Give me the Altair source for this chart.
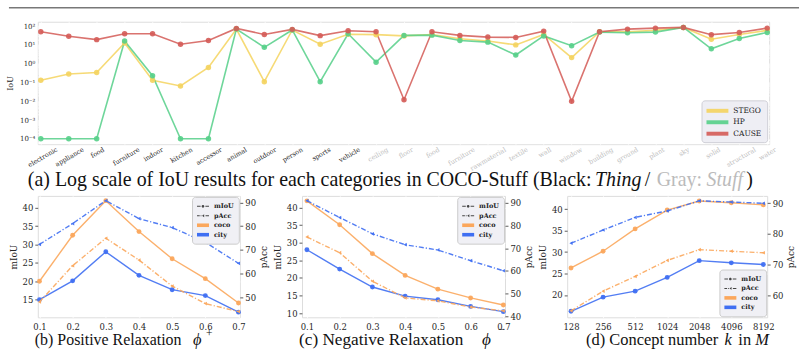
import altair as alt
import pandas as pd

# ---------------- (a) per-category IoU on COCO-Stuff (log scale) ----------------
thing_cats = ["electronic", "appliance", "food", "furniture", "indoor", "kitchen",
              "accessor", "animal", "outdoor", "person", "sports", "vehicle"]
stuff_cats = ["ceiling", "floor", "food", "furniture", "rawmaterial", "textile", "wall",
              "window", "building", "ground", "plant", "sky", "solid", "structural", "water"]
categories = thing_cats + stuff_cats
methods = ["STEGO", "HP", "CAUSE"]
method_colors = ["#f4d35e", "#55cf88", "#d45b56"]

iou_stego = [0.13, 0.28, 0.34, 12.6, 0.13, 0.065, 0.63, 70, 0.11, 62, 10.8, 37,
             35, 30, 36, 21, 16, 10, 36, 2.1, 50, 50, 59, 85, 20, 36, 59]
iou_hp = [1e-4, 1e-4, 1e-4, 16, 0.23, 1e-4, 1e-4, 70, 7.4, 62, 0.11, 39,
          1.2, 32, 33, 17, 14, 2.9, 30, 9, 48, 44, 48, 85, 6.2, 22, 46]
iou_cause = [50, 29, 19, 39, 39, 10.8, 17, 75, 36, 67, 31, 57,
             50, 0.012, 50, 32, 26, 25, 54, 0.01, 50, 69, 78, 85, 35, 46, 78]

# ---------------- (b)-(d) ablations: mIoU (left axis) / pAcc (right axis) ----------------
relax_levels = [0.1, 0.2, 0.3, 0.4, 0.5, 0.6, 0.7]
pos_coco_miou = [20.0, 32.5, 41.9, 33.5, 26.1, 20.7, 14.1]
pos_city_miou = [15.0, 20.1, 28.0, 21.6, 17.7, 16.1, 11.6]
pos_coco_pacc = [48.0, 63.3, 74.9, 65.7, 54.7, 47.3, 43.9]
pos_city_pacc = [72.3, 81.1, 90.8, 83.2, 79.4, 73.2, 64.3]

neg_coco_miou = [41.9, 35.1, 26.9, 20.7, 16.8, 14.3, 12.3]
neg_city_miou = [28.0, 22.5, 17.4, 14.8, 13.8, 11.9, 10.4]
neg_coco_pacc = [74.9, 68.0, 55.5, 48.2, 46.9, 44.2, 42.5]
neg_city_pacc = [90.8, 83.4, 76.3, 71.5, 69.2, 64.5, 60.1]

concept_sizes = [128, 256, 512, 1024, 2048, 4096, 8192]
k_coco_miou = [26.3, 30.2, 35.4, 39.8, 41.9, 41.5, 41.0]
k_city_miou = [16.2, 19.5, 20.9, 24.1, 28.0, 27.5, 27.1]
k_coco_pacc = [55.0, 61.4, 66.2, 71.4, 74.9, 74.4, 73.9]
k_city_pacc = [77.0, 81.3, 85.4, 87.5, 90.8, 90.4, 90.0]

ORANGE = "#fba75c"
BLUE = "#3f6ff2"
legend_keys = ["mIoU", "pAcc", "coco", "city"]
# legend glyphs as unit paths (stretched to the right): dashed line with dot,
# dash-dot with left triangle, and two thick colour bars
legend_glyphs = [
    "M-1,-0.11H-0.2V0.11H-1Z M0.87,-0.11H1.67V0.11H0.87Z "
    "M0.03,0A0.3,0.3 0 1,0 0.63,0A0.3,0.3 0 1,0 0.03,0Z",
    "M-1,-0.11H-0.4V0.11H-1Z M-0.2,-0.11H-0.02V0.11H-0.2Z "
    "M0.6,-0.32L0.12,0L0.6,0.32Z M0.9,-0.11H1.67V0.11H0.9Z",
    "M-1,-0.4H1.67V0.4H-1Z",
    "M-1,-0.4H1.67V0.4H-1Z",
]
method_bar = "M-1,-0.36H3V0.36H-1Z"

SERIF = "DejaVu Serif"
CAPTION_FONT = "Liberation Serif"
BG = "#eaeaf2"
NBSP_PAD = "\u00a0\u00a0\u00a0"


def caption(text, x, y, size, italic=False, color="#111111"):
    return alt.Chart(pd.DataFrame({"t": [text]})).mark_text(
        align="left", baseline="alphabetic", font=CAPTION_FONT, fontSize=size,
        fontStyle="italic" if italic else "normal", color=color,
    ).encode(x=alt.value(x), y=alt.value(y), text="t:N")


# ---------------- panel (a) ----------------
W_A, H_A = 735, 123
rows = []
for name, vals in zip(methods, [iou_stego, iou_hp, iou_cause]):
    for i, v in enumerate(vals):
        rows.append({"idx": i, "method": name, "iou": v})
df_a = pd.DataFrame(rows)

y_lo, y_hi = 5.2e-5, 170
log_grid = [m * 10.0 ** e for e in range(-5, 3) for m in range(1, 10)
            if y_lo <= m * 10.0 ** e <= y_hi]
sup = ["⁻⁴", "⁻³", "⁻²", "⁻¹", "⁰", "¹", "²"]
sup_js = "[" + ",".join("'" + s + "'" for s in sup) + "]"
y_label_expr = (
    "abs(log(datum.value)/LN10 - round(log(datum.value)/LN10)) < 1e-6 ? "
    "'10' + " + sup_js + "[round(log(datum.value)/LN10) + 4] : ''"
)
names_js = "[" + ",".join("'" + c + "'" for c in categories) + "]"

# rotated category labels: shift each so its rotated box is centred on the tick
char_w = 3.5
offset_conditions = [
    {"test": f"datum.value == {i}", "value": round(0.433 * len(c) * char_w - 1.0, 1)}
    for i, c in enumerate(categories)
]

x_a = alt.X(
    "idx:Q",
    scale=alt.Scale(domain=[-0.107, 26.07], nice=False, zero=False),
    axis=alt.Axis(
        values=list(range(len(categories))), labelExpr=names_js + "[datum.value]",
        title=None, grid=True, gridColor="white", gridWidth=1, domain=False, ticks=False,
        labelAngle=-30, labelAlign="right", labelBaseline="top", labelPadding=2,
        labelFont=SERIF, labelFontSize=6.5, labelOverlap=False, labelFlush=False,
        labelOffset={"condition": offset_conditions, "value": 0},
        labelColor={"condition": {"test": f"datum.value >= {len(thing_cats)}", "value": "#bdbdbd"},
                    "value": "#262626"},
    ),
)
y_a = alt.Y(
    "iou:Q",
    scale=alt.Scale(type="log", domain=[y_lo, y_hi], nice=False),
    axis=alt.Axis(
        values=log_grid, labelExpr=y_label_expr, title="IoU", grid=True, gridColor="white",
        gridWidth=1, domain=False, ticks=False, labelOverlap=False, labelFlush=False,
        labelFont=SERIF, labelFontSize=7, labelColor="#262626", labelPadding=3,
        titleFont=SERIF, titleFontSize=8, titleFontWeight="normal", titleColor="#262626",
        titlePadding=5,
    ),
)
method_scale = alt.Scale(domain=methods, range=method_colors)

lines_a = alt.Chart(df_a).mark_line(strokeWidth=1.6, opacity=0.85).encode(
    x=x_a, y=y_a,
    color=alt.Color("method:N", scale=method_scale, sort=methods, legend=None),
)
points_a = alt.Chart(df_a).mark_point(filled=True, size=30, opacity=0.9).encode(
    x=x_a, y=y_a,
    color=alt.Color("method:N", scale=method_scale, sort=methods, legend=None),
)
# legend-only layer (invisible points) drawing thick colour bars as legend glyphs
legend_a = alt.Chart(pd.DataFrame({"method": methods})).mark_point(
    filled=True, opacity=0
).encode(
    x=alt.value(W_A / 2), y=alt.value(H_A / 2),
    color=alt.Color("method:N", scale=method_scale, sort=methods,
                    legend=alt.Legend(
                        title=None, orient="bottom-right", offset=2, fillColor="#eeeef4",
                        strokeColor="#cfcfd6", cornerRadius=3, padding=5,
                        labelFont=SERIF, labelFontSize=7.5, labelColor="#222222",
                        symbolSize=121, symbolStrokeWidth=0, symbolOpacity=0.9,
                        rowPadding=2.5, labelOffset=16,
                        labelExpr="datum.label + '" + NBSP_PAD[:1] + "'",
                    )),
    shape=alt.Shape("method:N", sort=methods,
                    scale=alt.Scale(domain=methods, range=[method_bar] * len(methods)),
                    legend=alt.Legend(title=None, orient="bottom-right", symbolOpacity=0.9,
                                      symbolStrokeWidth=0)),
)
top_rule = alt.Chart(pd.DataFrame({"r": [0]})).mark_rule(color="#333333", strokeWidth=1).encode(
    x=alt.value(-29), x2=alt.value(765), y=alt.value(-14)
)
CAP_A = 20
cap_a = [
    caption("(a) Log scale of IoU results for each categories in COCO-Stuff (Black:", -10, 165, CAP_A),
    caption("Thing", 560, 165, CAP_A, italic=True),
    caption("/", 610, 165, CAP_A),
    caption("Gray:", 622, 165, CAP_A, color="#bbbbbb"),
    caption("Stuff", 672, 165, CAP_A, italic=True, color="#bbbbbb"),
    caption(")", 712, 165, CAP_A),
]
panel_a = alt.layer(lines_a, points_a, legend_a, top_rule, *cap_a).resolve_scale(
    color="independent", shape="independent"
).properties(width=W_A, height=H_A)


# ---------------- panels (b)-(d) ----------------
def ablation_panel(xs, coco_m, city_m, coco_p, city_p, x_enc, left_dom, left_ticks,
                   right_dom, right_ticks, legend_orient, width, captions):
    recs = []
    for ds, metric, vals in [("coco", "mIoU", coco_m), ("city", "mIoU", city_m),
                             ("coco", "pAcc", coco_p), ("city", "pAcc", city_p)]:
        for xv, v in zip(xs, vals):
            recs.append({"x": xv, "dataset": ds, "metric": metric, "value": v})
    df = pd.DataFrame(recs)
    base = alt.Chart(df)

    axis_style = dict(
        domain=False, tickSize=3, tickColor="#333333", tickWidth=0.8,
        labelFont=SERIF, labelFontSize=8.5, labelColor="#262626", labelPadding=2,
        titleFont=SERIF, titleFontSize=9, titleFontWeight="normal", titleColor="#262626",
    )
    y_left = alt.Y("value:Q", scale=alt.Scale(domain=left_dom, nice=False, zero=False),
                   axis=alt.Axis(values=left_ticks, title="mIoU", grid=True, gridColor="white",
                                 titlePadding=4, **axis_style))
    y_right = alt.Y("value:Q", scale=alt.Scale(domain=right_dom, nice=False, zero=False),
                    axis=alt.Axis(values=right_ticks, title="pAcc", orient="right", grid=False,
                                  titleAngle=270, titleBaseline="top", titlePadding=4,
                                  **axis_style))

    def series(metric, ds, color, y):
        sub = base.transform_filter(
            f"datum.metric == '{metric}' && datum.dataset == '{ds}'")
        if metric == "mIoU":
            line = sub.mark_line(color=color, strokeWidth=1.4, opacity=0.9)
            pts = sub.mark_point(color=color, filled=True, shape="circle", size=24, opacity=0.95)
        else:
            line = sub.mark_line(color=color, strokeWidth=1.4, opacity=0.9,
                                 strokeDash=[5, 2, 1.2, 2])
            pts = sub.mark_point(color=color, filled=True, shape="triangle-left", size=14,
                                 opacity=0.95)
        return [line.encode(x=x_enc, y=y), pts.encode(x=x_enc, y=y)]

    left = alt.layer(*series("mIoU", "coco", ORANGE, y_left), *series("mIoU", "city", BLUE, y_left))
    right = alt.layer(*series("pAcc", "coco", ORANGE, y_right), *series("pAcc", "city", BLUE, y_right))

    # legend-only layer: invisible points, the legend shows the glyphs
    key_legend = alt.Chart(pd.DataFrame({"key": legend_keys})).mark_point(
        filled=True, opacity=0
    ).encode(
        x=alt.value(width / 2), y=alt.value(60),
        color=alt.Color("key:N", sort=legend_keys,
                        scale=alt.Scale(domain=legend_keys,
                                        range=["#444444", "#444444", ORANGE, BLUE]),
                        legend=alt.Legend(
                            title=None, orient=legend_orient, offset=1, fillColor="#f0f0f5",
                            strokeColor="#cccccc", cornerRadius=3, padding=5,
                            labelFont=SERIF, labelFontSize=6.5, labelFontWeight="bold",
                            labelColor="#222222", symbolSize=81, symbolStrokeWidth=0,
                            rowPadding=1.5, labelOffset=8, symbolOpacity=1,
                            labelExpr="datum.label + '" + NBSP_PAD + "'")),
        shape=alt.Shape("key:N", sort=legend_keys,
                        scale=alt.Scale(domain=legend_keys, range=legend_glyphs),
                        legend=alt.Legend(title=None, orient=legend_orient, symbolOpacity=1,
                                          symbolStrokeWidth=0)),
    )
    return alt.layer(left, right, key_legend, *captions).resolve_scale(
        y="independent", color="independent", shape="independent",
    ).properties(width=width, height=122)


axis_x = dict(title=None, grid=True, gridColor="white", domain=False, ticks=False,
              labelFont=SERIF, labelFontSize=8.5, labelColor="#262626", labelPadding=5,
              labelFlush=False, labelOverlap=False)

CAP_Y = 150
panel_b = ablation_panel(
    relax_levels, pos_coco_miou, pos_city_miou, pos_coco_pacc, pos_city_pacc,
    alt.X("x:Q", scale=alt.Scale(domain=[0.095, 0.704], nice=False, zero=False),
          axis=alt.Axis(values=relax_levels, format=".1f", **axis_x)),
    [10.2, 43.2], [15, 20, 25, 30, 35, 40], [41.5, 92.8], [50, 60, 70, 80, 90],
    "top-right", 203,
    [caption("(b) Positive Relaxation", -3, CAP_Y, 16),
     caption("ϕ", 156, CAP_Y, 16.5, italic=True),
     caption("+", 169, CAP_Y - 8, 11.5)],
)
panel_c = ablation_panel(
    relax_levels, neg_coco_miou, neg_city_miou, neg_coco_pacc, neg_city_pacc,
    alt.X("x:Q", scale=alt.Scale(domain=[0.085, 0.705], nice=False, zero=False),
          axis=alt.Axis(values=relax_levels, format=".1f", **axis_x)),
    [8.8, 43.3], [10, 15, 20, 25, 30, 35, 40], [39.7, 92.9], [40, 50, 60, 70, 80, 90],
    "top-right", 204,
    [caption("(c) Negative Relaxation", -3, CAP_Y, 17.3),
     caption("ϕ", 181, CAP_Y, 17.3, italic=True),
     caption("−", 197, CAP_Y - 12, 12)],
)
panel_d = ablation_panel(
    concept_sizes, k_coco_miou, k_city_miou, k_coco_pacc, k_city_pacc,
    alt.X("x:O", sort=concept_sizes, scale=alt.Scale(type="point", padding=0.12),
          axis=alt.Axis(labelAngle=0, **axis_x)),
    [14.8, 43.1], [20, 25, 30, 35, 40], [52.9, 92.4], [60, 70, 80, 90],
    "bottom-right", 201,
    [caption("(d) Concept number", 19, CAP_Y, 16.5),
     caption("k", 158, CAP_Y, 16.5, italic=True),
     caption("in", 172, CAP_Y, 16.5),
     caption("M", 189, CAP_Y, 16.5, italic=True)],
)

bottom_row = alt.hconcat(panel_b, panel_c, panel_d, spacing=62.5, bounds="flush").resolve_scale(
    color="independent", shape="independent")
chart = alt.vconcat(panel_a, bottom_row, spacing=52, bounds="flush").resolve_scale(
    color="independent", shape="independent"
).properties(
    padding={"left": 6, "top": 6, "right": 4, "bottom": 0}
).configure_view(fill=BG, stroke=None).configure(background="white")

chart.save("out.html", embed_options={"renderer": "svg", "actions": False})
